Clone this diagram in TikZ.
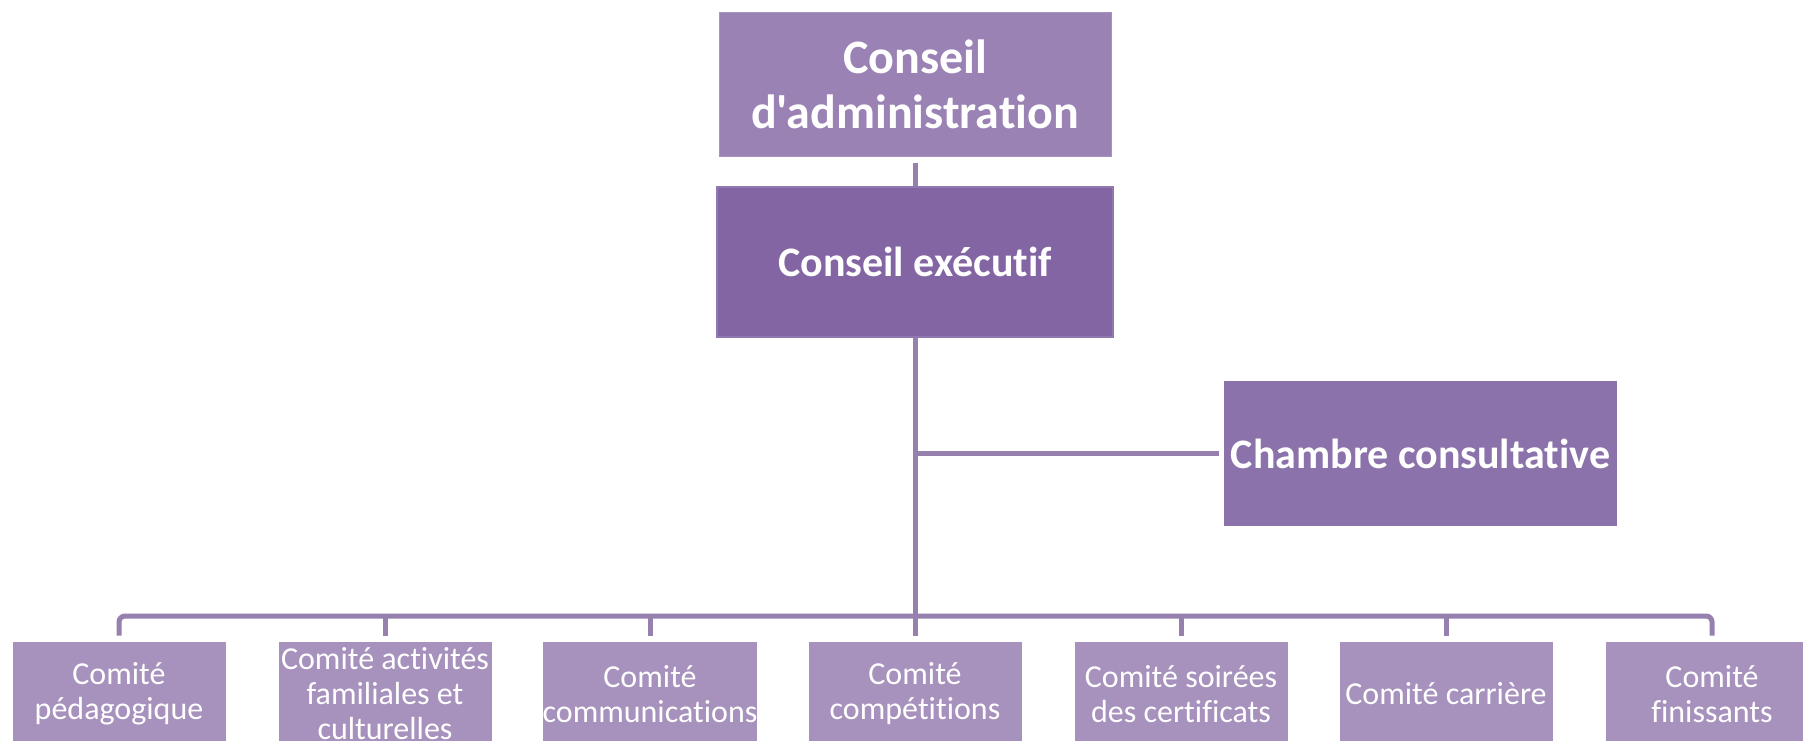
\documentclass[tikz,border=0pt]{standalone}
\usepackage{fontspec}
\newfontfamily\calfont{Carlito}[Ligatures={NoCommon,NoRequired}]
\definecolor{cTop}{HTML}{9B82B5}
\definecolor{cTopE}{HTML}{A792C0}
\definecolor{cExec}{HTML}{8265A2}
\definecolor{cExecE}{HTML}{9079B0}
\definecolor{cCh}{HTML}{8B72AA}
\definecolor{cBot}{HTML}{A791BD}
\definecolor{cLine}{HTML}{9580AE}
\begin{document}
\begin{tikzpicture}[x=0.5pt,y=-0.5pt,
  box/.style={rectangle, inner sep=0pt, align=center, text=white},
  topbox/.style={box, fill=cTop, draw=cTopE, line width=0.5pt, minimum width=196pt, minimum height=72pt, font=\calfont\fontsize{24}{27.5}\selectfont\bfseries},
  execbox/.style={box, fill=cExec, draw=cExecE, line width=0.6pt, minimum width=198pt, minimum height=75pt, font=\calfont\fontsize{21}{25}\selectfont\bfseries},
  chbox/.style={box, fill=cCh, minimum width=196.5pt, minimum height=72.5pt, font=\calfont\fontsize{21}{25}\selectfont\bfseries},
  botbox/.style={box, fill=cBot, minimum width=106.5pt, minimum height=52pt, font=\calfont\fontsize{16}{17.5}\selectfont},
  conn/.style={draw=cLine, line width=2.5pt}]
\useasboundingbox (0,0) rectangle (1803,740);
\clip (0,0) rectangle (1803,740);
\fill[white] (0,0) rectangle (1803,740);

\node[topbox] (top) at (915,84) {Conseil\\d'administration};
\node[execbox] (exec) at (915,262) {Conseil exécutif};
\node[chbox] (ch) at (1420.5,453.5) {Chambre consultative};

\node[botbox] (b1) at (119,694) {Comité\\pédagogique};
\node[botbox] (b2) at (385,694) {Comité activités\\familiales et\\culturelles};
\node[botbox] (b3) at (650,694) {Comité\\communications};
\node[botbox] (b4) at (915,694) {Comité\\compétitions};
\node[botbox] (b5) at (1181,694) {Comité soirées\\des certificats};
\node[botbox] (b6) at (1446,694) {Comité carrière};
\node[botbox] (b7) at (1712,694) {Comité\\finissants};

\coordinate (bus) at (915,616);

\draw[conn, shorten <=3pt] (top.south) -- (exec.north);
\draw[conn, shorten >=3pt] (exec.south) -- (b4.north);
\draw[conn, shorten >=2.5pt] (exec.south |- ch.west) -- (ch.west);
\draw[conn, rounded corners=3pt, shorten <=3pt, shorten >=3pt] (b1.north) |- (bus) -| (b7.north);
\foreach \i in {2,3,5,6}
  \draw[conn, shorten >=3pt] (b\i.north |- bus) -- (b\i.north);
\end{tikzpicture}
\end{document}
